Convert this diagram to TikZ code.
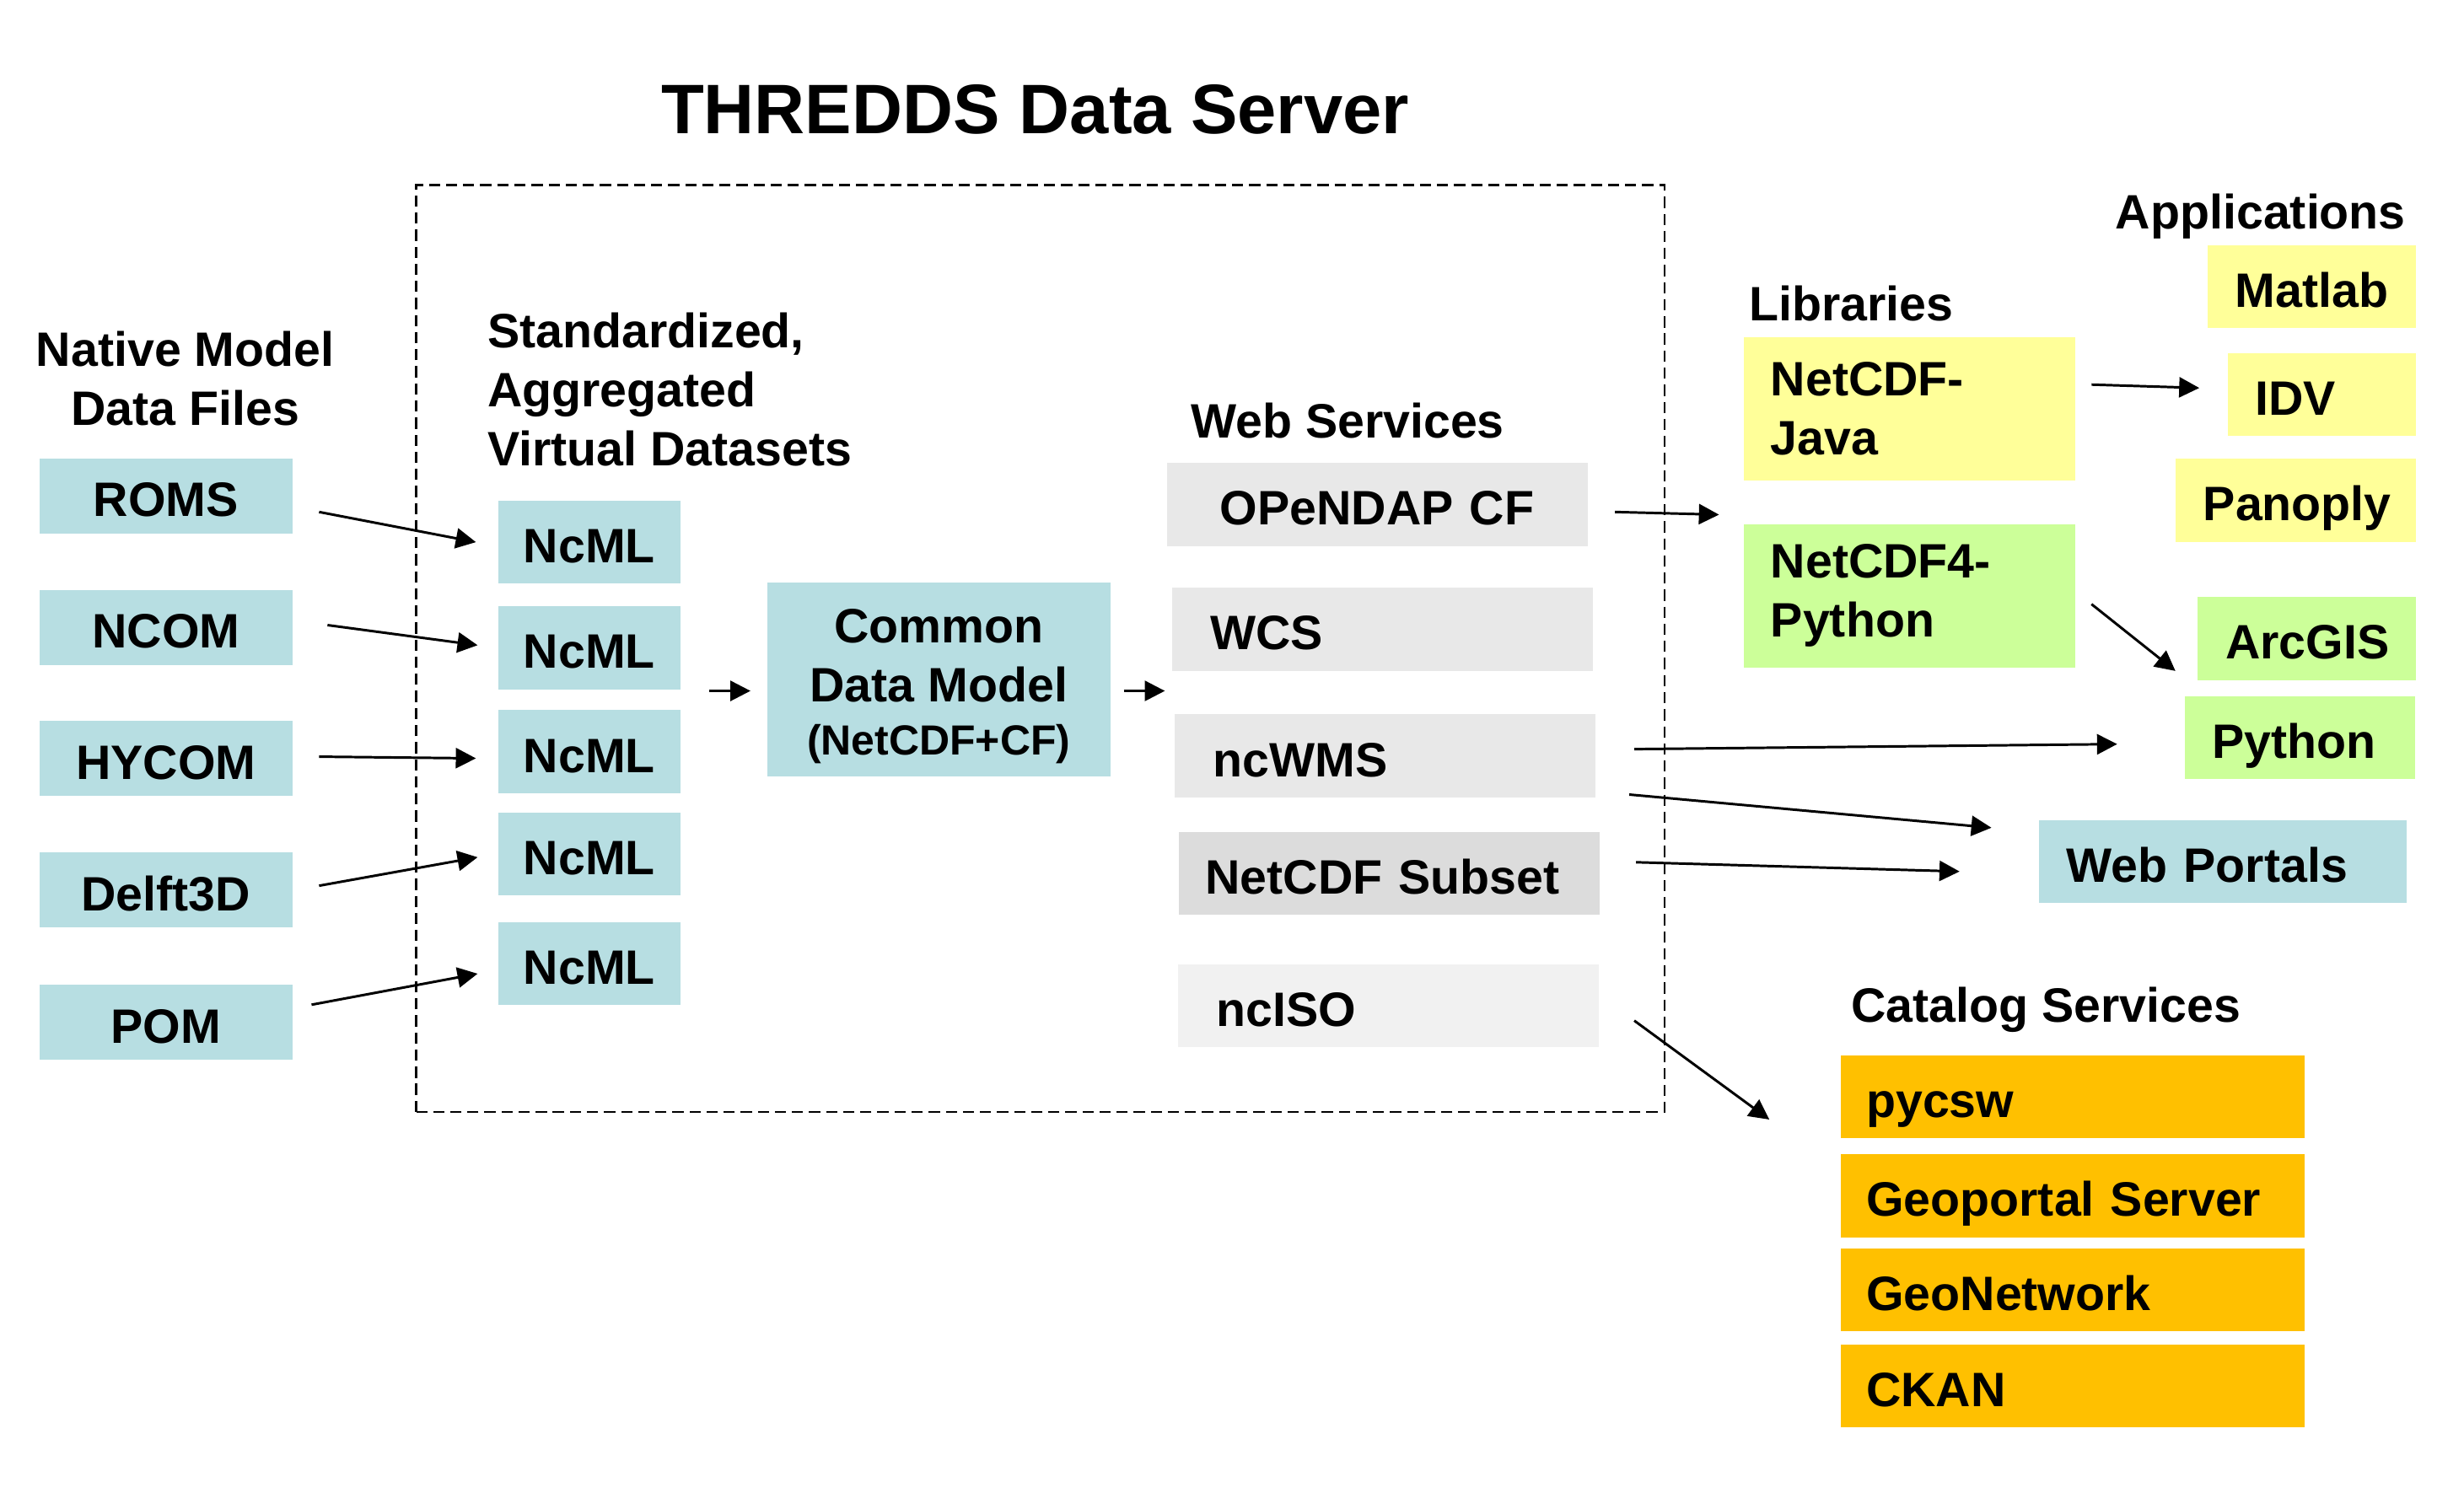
\documentclass[tikz,border=0pt]{standalone}
\usepackage{fontspec}
\setmainfont{Liberation Sans}
\usetikzlibrary{positioning, arrows.meta, calc}
\definecolor{modelblue}{RGB}{183, 222, 226}
\definecolor{servicegray}{RGB}{232, 232, 232}
\definecolor{subsetgray}{RGB}{220, 220, 220}
\definecolor{isogray}{RGB}{241, 241, 241}
\definecolor{libyellow}{RGB}{255, 255, 153}
\definecolor{libgreen}{RGB}{204, 255, 153}
\definecolor{catorange}{RGB}{255, 192, 0}

\begin{document}
\begin{tikzpicture}[
    every node/.style={font=\fontsize{16.4}{20}\selectfont\bfseries, execute at begin node={\hyphenpenalty=10000}},
    line/.style={text height=17.3pt, text depth=3.3pt},
    model/.style={rectangle, line, minimum width=3.02cm, minimum height=0.9cm, inner sep=0pt, fill=modelblue},
    ncml/.style={rectangle, line, minimum width=2.17cm, minimum height=0.99cm, inner sep=0pt, fill=modelblue},
    service/.style={rectangle, line, minimum height=0.99cm, text width=4.1cm, inner xsep=0.46cm, inner ysep=0pt, align=left, fill=servicegray},
    library/.style={rectangle, minimum height=1.71cm, text width=3.31cm, inner xsep=0.32cm, inner ysep=0pt, align=left},
    app/.style={rectangle, line, minimum height=0.99cm, inner xsep=0.33cm, inner ysep=0pt, align=left},
    catalog/.style={rectangle, line, minimum height=0.99cm, text width=4.93cm, inner xsep=0.3cm, inner ysep=0pt, align=left, fill=catorange},
    heading/.style={line, inner sep=0pt},
    frame/.style={draw=black, line width=0.7pt, dash pattern=on 3.8pt off 2pt},
    arrow/.style={line width=0.85pt, -{Triangle[length=2.4mm, width=2.4mm]}, draw=black}
]
\useasboundingbox (0,-0.107) rectangle (29.396,17.70);

% Server frame
\draw [frame] (4.966,4.43) rectangle (19.86,15.49);
\node (title) [font=\fontsize{23.8}{28}\selectfont\bfseries] at (12.35,16.39) {THREDDS Data Server};

% Native model data files
\node (native) [align=center, inner sep=0pt] at (2.21,13.18) {Native Model\\Data Files};
\node (roms) [model] at (1.98,11.78) {ROMS};
\node (ncom) [model] at (1.98,10.21) {NCOM};
\node (hycom) [model] at (1.98,8.65) {HYCOM};
\node (delft) [model] at (1.98,7.08) {Delft3D};
\node (pom) [model] at (1.98,5.50) {POM};

% Virtual datasets
\node (virtual) [align=left, inner sep=0pt, anchor=west] at (5.81,13.05) {Standardized,\\Aggregated\\Virtual Datasets};
\node (ncml1) [ncml] at (7.03,11.23) {NcML};
\node (ncml2) [ncml] at (7.03,9.97) {NcML};
\node (ncml3) [ncml] at (7.03,8.73) {NcML};
\node (ncml4) [ncml] at (7.03,7.51) {NcML};
\node (ncml5) [ncml] at (7.03,6.20) {NcML};

\node (cdm) [rectangle, minimum width=4.10cm, minimum height=2.32cm, align=center, fill=modelblue] at (11.20,9.59) {\rule{0pt}{16pt}Common\\Data Model\\[-2pt]{\fontsize{14.3}{17}\selectfont(NetCDF+CF)}};

% Web services
\node (services) [heading, anchor=west] at (14.20,12.72) {Web Services};
\node (opendap) [service, align=center] at (16.43,11.68) {OPeNDAP CF};
\node (wcs) [service] at (16.49,10.19) {WCS};
\node (ncwms) [service] at (16.52,8.68) {ncWMS};
\node (subset) [service, fill=subsetgray, inner xsep=0.32cm, text width=4.38cm] at (16.57,7.28) {NetCDF Subset};
\node (nciso) [service, fill=isogray] at (16.56,5.70) {ncISO};

% Libraries
\node (libraries) [heading, anchor=west] at (20.86,14.12) {Libraries};
\node (java) [library, fill=libyellow] at (22.78,12.82) {NetCDF-\\Java};
\node (python4) [library, fill=libgreen] at (22.78,10.59) {NetCDF4-\\Python};

% Applications
\node (applications) [heading] at (26.97,15.21) {Applications};
\node (matlab) [app, fill=libyellow, text width=1.83cm] at (27.58,14.28) {Matlab};
\node (idv) [app, fill=libyellow, text width=1.59cm] at (27.70,12.99) {IDV};
\node (panoply) [app, fill=libyellow, text width=2.21cm] at (27.39,11.73) {Panoply};
\node (arcgis) [app, fill=libgreen, text width=1.94cm] at (27.52,10.08) {ArcGIS};
\node (python) [app, fill=libgreen, text width=2.09cm] at (27.44,8.90) {Python};
\node (portals) [app, fill=modelblue, text width=3.73cm] at (26.52,7.42) {Web Portals};

% Catalog services
\node (catalogs) [heading, anchor=west] at (22.08,5.75) {Catalog Services};
\node (pycsw) [catalog] at (24.73,4.61) {pycsw};
\node (geoportal) [catalog] at (24.73,3.43) {Geoportal Server};
\node (geonetwork) [catalog] at (24.73,2.31) {GeoNetwork};
\node (ckan) [catalog] at (24.73,1.16) {CKAN};

% Arrows into NcML
\draw [arrow] ([xshift=3.1mm, yshift=-1.9mm]roms.east) -- ([xshift=-2.6mm]ncml1.west);
\draw [arrow] ([xshift=4.1mm, yshift=0.3mm]ncom.east) -- ([xshift=-2.4mm, yshift=0.3mm]ncml2.west);
\draw [arrow] ([xshift=3.1mm, yshift=0.2mm]hycom.east) -- ([xshift=-2.6mm, yshift=-0.8mm]ncml3.west);
\draw [arrow] ([xshift=3.1mm, yshift=0.5mm]delft.east) -- ([xshift=-2.4mm, yshift=-0.4mm]ncml4.west);
\draw [arrow] ([xshift=2.2mm, yshift=2.1mm]pom.east) -- ([xshift=-2.4mm, yshift=-1.2mm]ncml5.west);

% Arrows through the model
\draw [arrow] ([xshift=-6.8mm, yshift=-1.35mm]cdm.west) -- ([xshift=-1.9mm, yshift=-1.35mm]cdm.west);
\draw [arrow] ([xshift=1.5mm, yshift=-1.35mm]cdm.east) -- ([xshift=6.4mm, yshift=-1.35mm]cdm.east);

% Arrows to clients
\draw [arrow] ([xshift=3.2mm, yshift=-0.9mm]opendap.east) -- ([xshift=-2.9mm, yshift=-4mm]java.south west);
\draw [arrow] ([xshift=1.9mm, yshift=2.9mm]java.east) -- ([xshift=-3.3mm, yshift=0.8mm]idv.west);
\draw [arrow] ([xshift=1.9mm, yshift=-1.0mm]python4.east) -- ([xshift=-2.6mm, yshift=1.15mm]arcgis.south west);
\draw [arrow] ([xshift=4.6mm, yshift=0.8mm]ncwms.east) -- ([xshift=-8.0mm, yshift=-0.8mm]python.west);
\draw [arrow] ([xshift=4mm, yshift=0.4mm]ncwms.south east) -- ([xshift=-5.6mm, yshift=-1mm]portals.north west);
\draw [arrow] ([xshift=4.3mm, yshift=1.3mm]subset.east) -- ([xshift=-9.4mm, yshift=-1.2mm]portals.west);
\draw [arrow] ([xshift=4.2mm, yshift=-1.8mm]nciso.east) -- ([xshift=-8.5mm, yshift=-2.7mm]pycsw.west);

\end{tikzpicture}
\end{document}
